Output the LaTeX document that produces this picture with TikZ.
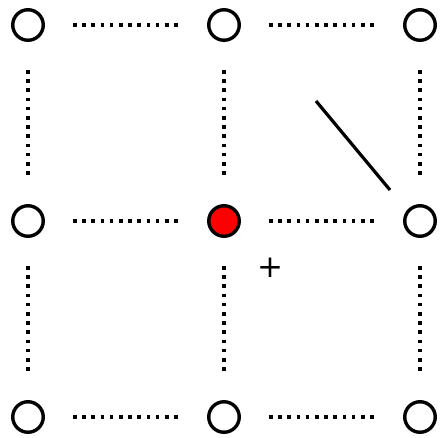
\documentclass[tikz,border=0pt]{standalone}
\usepackage{fontspec}
\newfontfamily\markfont{DejaVu Sans}
\usetikzlibrary{positioning}

\begin{document}
\begin{tikzpicture}[
    x=1pt, y=-1pt,
    node distance=196pt, on grid,
    site/.style={draw, circle, line width=3.4pt, minimum size=30.5pt, inner sep=0pt, fill=white},
    hot/.style={site, fill=red},
    bond/.style={line width=3.6pt, dash pattern=on 3.6pt off 5.6pt, shorten <=28pt, shorten >=28pt},
    stroke/.style={line width=3.2pt}
]
\useasboundingbox (0,0) rectangle (442,438);
\node[site] (a1) at (28,25) {};
\node[site, right=of a1] (a2) {};
\node[site, right=of a2] (a3) {};
\node[site, below=of a1] (b1) {};
\node[hot, right=of b1] (b2) {};
\node[site, right=of b2] (b3) {};
\node[site, below=of b1] (c1) {};
\node[site, right=of c1] (c2) {};
\node[site, right=of c2] (c3) {};
\draw[bond] (a1) -- (a2);
\draw[bond] (a2) -- (a3);
\draw[bond] (b1) -- (b2);
\draw[bond] (b2) -- (b3);
\draw[bond] (c1) -- (c2);
\draw[bond] (c2) -- (c3);
\draw[bond] (a1) -- (b1);
\draw[bond] (b1) -- (c1);
\draw[bond] (a2) -- (b2);
\draw[bond] (b2) -- (c2);
\draw[bond] (a3) -- (b3);
\draw[bond] (b3) -- (c3);
\coordinate (tip) at (316,101);
\coordinate (foot) at (390,190);
\draw[stroke] (tip) -- (foot);
\node[inner sep=0pt] (mark) at (270.5,268) {\markfont\fontsize{31}{31}\selectfont +};
\end{tikzpicture}
\end{document}
